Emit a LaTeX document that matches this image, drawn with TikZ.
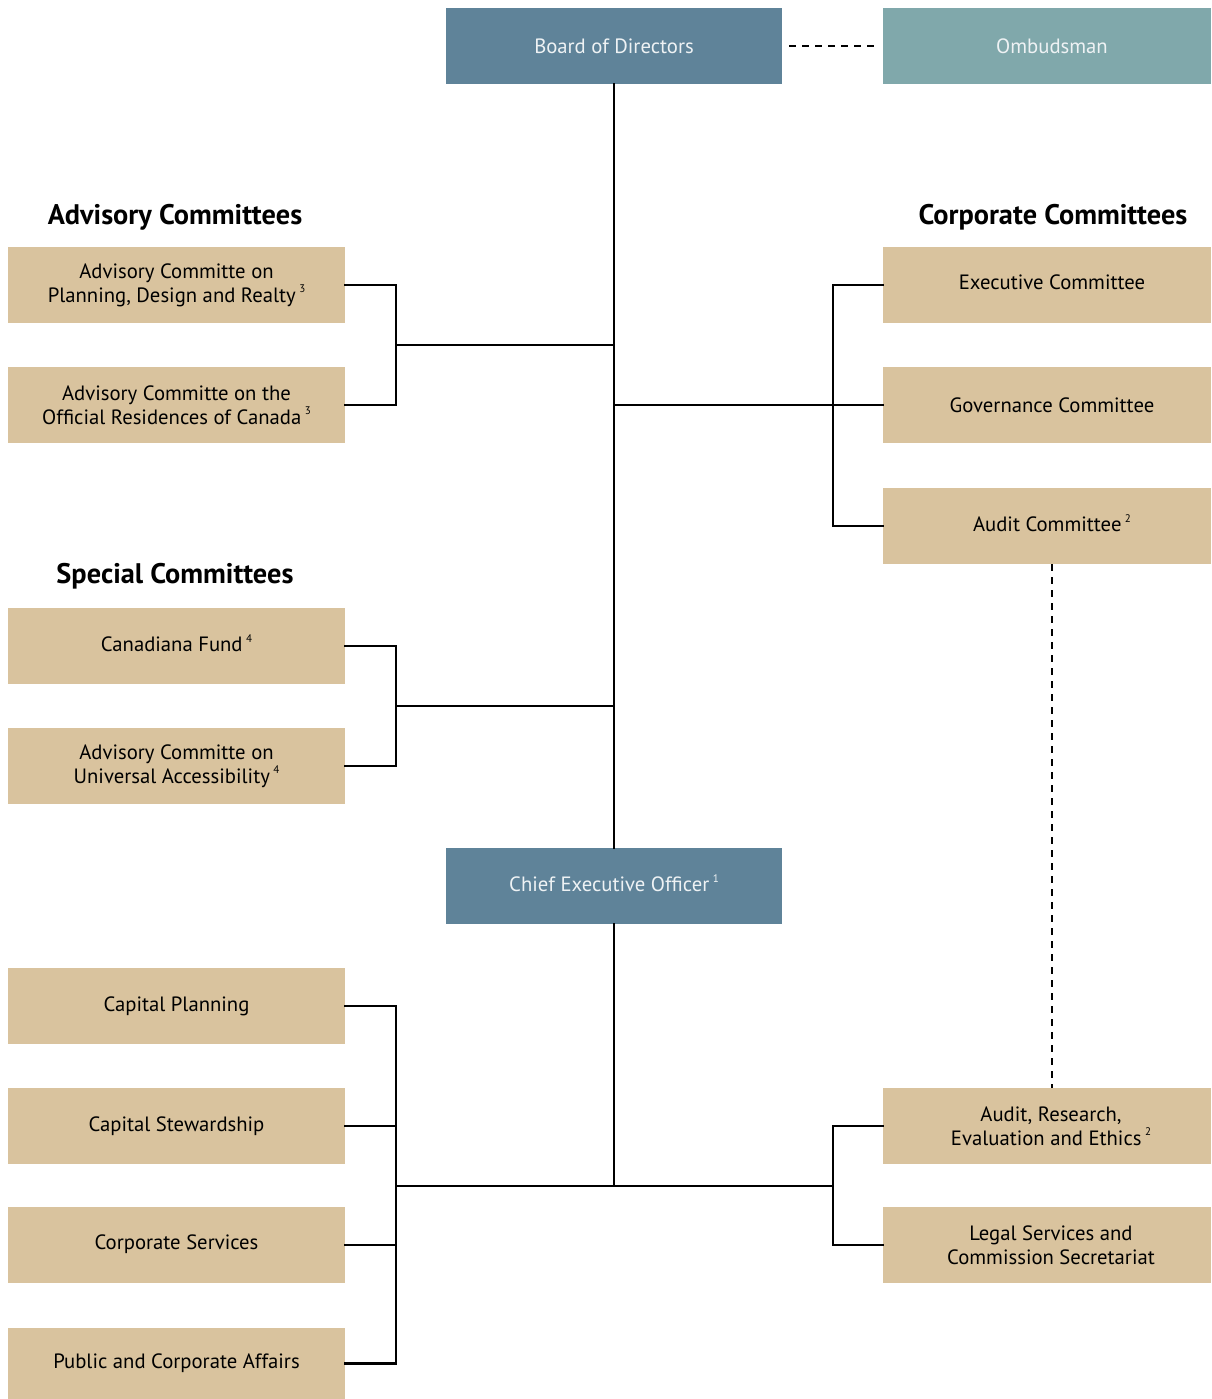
\documentclass[tikz,border=0pt]{standalone}
\usepackage{fontspec}
\setmainfont{PT Sans}
\definecolor{tan}{HTML}{D9C39E}
\definecolor{board}{HTML}{5F8399}
\definecolor{ombud}{HTML}{80A8AB}
\definecolor{lighttxt}{HTML}{EEF2F4}
\begin{document}
\begin{tikzpicture}[x=1pt,y=-1pt,
  box/.style={fill=tan,draw=none,inner sep=0pt,align=center,font=\fontsize{20.7}{24}\selectfont,text=black},
  lbox/.style={box,minimum width=337pt,minimum height=76pt},
  rbox/.style={box,minimum width=328pt,minimum height=76pt},
  topbox/.style={box,fill=board,text=lighttxt,minimum width=336pt,minimum height=76pt},
  head/.style={font=\fontsize{28.3}{30}\selectfont\bfseries,inner sep=0pt},
  conn/.style={line width=2.3pt,line cap=rect},
  dconn/.style={line width=2.3pt,dash pattern=on 7pt off 6pt}]
\useasboundingbox (0,0) rectangle (1211,1399);
\newcommand{\fn}[1]{\,\raisebox{0.45em}{\fontsize{11}{11}\selectfont #1}}
\newcommand{\up}{\rule[-6pt]{0pt}{1pt}}
% top
\node[topbox] (board) at (614,46) {Board of Directors};
\node[topbox,fill=ombud,minimum width=328pt] (ombud) at (1047,46) {\hspace*{10pt}Ombudsman};
% headings
\node[head] (hadv) at (175,217) {Advisory Committees};
\node[head] (hcorp) at (1053,217) {Corporate Committees};
\node[head] (hspec) at (175,576) {Special Committees};
% left committees
\node[lbox] (adv1) at (176.5,285) {Advisory Committe on\\Planning, Design and Realty\fn{3}};
\node[lbox] (adv2) at (176.5,405) {Advisory Committe on the\\Official Residences of Canada\fn{3}};
\node[lbox] (spec1) at (176.5,646) {Canadiana Fund\fn{4}\up};
\node[lbox] (spec2) at (176.5,766) {Advisory Committe on\\Universal Accessibility\fn{4}};
% right committees
\node[rbox] (exec) at (1047,285) {\hspace*{10pt}Executive Committee\up};
\node[rbox] (gov) at (1047,405) {\hspace*{10pt}Governance Committee};
\node[rbox] (audit) at (1047,526) {\hspace*{10pt}Audit Committee\fn{2}\up};
% CEO
\node[topbox] (ceo) at (614,886) {Chief Executive Officer\fn{1}\up};
% bottom left
\node[lbox] (cp) at (176.5,1006) {Capital Planning};
\node[lbox] (cs) at (176.5,1126) {Capital Stewardship};
\node[lbox] (cserv) at (176.5,1245) {Corporate Services\up};
\node[lbox,minimum height=71pt] (pca) at (176.5,1363.5) {Public and Corporate Affairs};
% bottom right
\node[rbox] (are) at (1047,1126) {\hspace*{8pt}Audit, Research,\\\hspace*{8pt}Evaluation and Ethics\fn{2}};
\node[rbox] (legal) at (1047,1245) {\hspace*{8pt}Legal Services and\\\hspace*{8pt}Commission Secretariat};
% coordinates
\coordinate (jadv) at (614,345);
\coordinate (jcorp) at (614,405);
\coordinate (jspec) at (614,706);
\coordinate (jbot) at (614,1186);
\coordinate (aduse) at (1052,564);
\coordinate (aree) at (1052,1088);
% connectors
\draw[dconn] (board.east) ++(7,0) -- ([xshift=-3pt]ombud.west);
\draw[conn] (board.south) -- (ceo.north);
\draw[conn] (ceo.south) -- (jbot);
% advisory bracket
\draw[conn] (adv1.east) -| (396,345) |- (adv2.east);
\draw[conn] (396,345) -- (jadv);
% corporate bracket
\draw[conn] (exec.west) -| (833,405) |- (audit.west);
\draw[conn] (jcorp) -- (gov.west);
% special bracket
\draw[conn] (spec1.east) -| (396,706) |- (spec2.east);
\draw[conn] (396,706) -- (jspec);
% bottom left bracket
\draw[conn] (cp.east) -| (396,1186) |- (pca.east);
\draw[conn] (cs.east) -- (396,1126);
\draw[conn] (cserv.east) -- (396,1245);
\draw[conn] (396,1186) -- (833,1186);
% bottom right bracket
\draw[conn] (are.west) -| (833,1186) |- (legal.west);
% dashed audit link
\draw[dconn] (aduse) -- (aree);
\end{tikzpicture}
\end{document}
